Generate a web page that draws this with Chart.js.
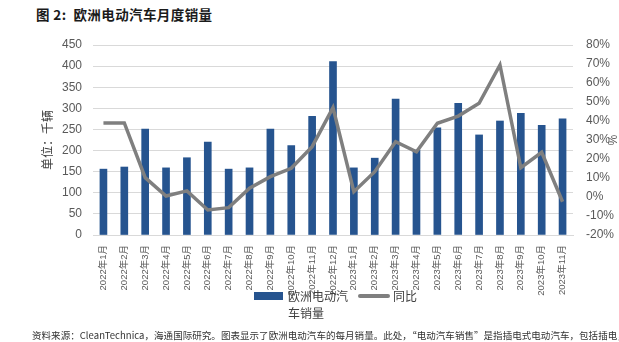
<!DOCTYPE html>
<html lang="zh-CN">
<head>
<meta charset="utf-8">
<title>欧洲电动汽车月度销量</title>
<script src="https://cdn.jsdelivr.net/npm/chart.js@4.4.1/dist/chart.umd.min.js"></script>
<style>
  html, body { margin: 0; padding: 0; background: #fff; }
  body { width: 619px; height: 342px; position: relative; overflow: hidden;
         font-family: "Liberation Sans", "Noto Sans CJK SC", sans-serif; }
  #chart { position: absolute; left: 0; top: 0; }
  .title { position: absolute; left: 36px; top: 4px; font-size: 13.5px; font-weight: bold;
           color: #1a1a1a; letter-spacing: 0.4px; font-family: "Noto Sans CJK SC", sans-serif; }
  .legend { position: absolute; top: 288px; font-size: 12px; color: #404040;
            font-family: "Noto Sans CJK SC", sans-serif; line-height: 16px; }
  .legend .swatch { position: absolute; left: 0; }
  .legend .text { position: absolute; white-space: nowrap; }
  .source { position: absolute; left: 32px; top: 328px; font-size: 9.5px; color: #333;
            letter-spacing: 0.05px; white-space: nowrap; font-family: "Noto Sans CJK SC", sans-serif; }
</style>
</head>
<body>
<div class="title">图 2:&nbsp; 欧洲电动汽车月度销量</div>
<canvas id="chart" width="619" height="342"></canvas>
<div id="legend"></div>
<div class="source">资料来源：CleanTechnica，海通国际研究。图表显示了欧洲电动汽车的每月销量。此处，“电动汽车销售”是指插电式电动汽车，包括插电，</div>
<script>
/* global Chart */

const months = [
  "2022年1月", "2022年2月", "2022年3月", "2022年4月", "2022年5月", "2022年6月",
  "2022年7月", "2022年8月", "2022年9月", "2022年10月", "2022年11月", "2022年12月",
  "2023年1月", "2023年2月", "2023年3月", "2023年4月", "2023年5月", "2023年6月",
  "2023年7月", "2023年8月", "2023年9月", "2023年10月", "2023年11月"
];

// monthly sales, thousand units
const sales = [
  156, 161, 251, 159, 183, 220, 156, 159, 251, 212, 281, 411,
  159, 182, 322, 201, 254, 312, 237, 270, 288, 260, 275
];

// year-over-year change, %
const yoy = [
  39, 39, 10.2, 0.5, 3.2, -6.8, -5.6, 4.6, 10.7, 15.1, 26.5, 47,
  2.8, 13.3, 29.1, 23.8, 38.8, 42.6, 49.3, 69.5, 15.4, 23.5, -2.5
];

const salesLabel = "欧洲电动汽车销量";
const yoyLabel = "同比";

const BLUE = "#26548f";
const GREY = "#7f7f7f";
const TICK = "#595959";

const tickFont = { family: "'Liberation Sans', 'Noto Sans CJK SC', sans-serif", size: 12 };

function renderLegend() {
  const el = document.getElementById("legend");
  el.innerHTML = `
    <div class="legend" style="left:254px">
      <div class="swatch" style="top:4px;width:29px;height:8px;background:${BLUE}"></div>
      <div class="text" style="left:34px;top:0">欧洲电动汽</div>
      <div class="text" style="left:34px;top:17px">车销量</div>
    </div>
    <div class="legend" style="left:358px">
      <div class="swatch" style="top:6px;width:32px;height:4px;background:${GREY};border-radius:2px"></div>
      <div class="text" style="left:35px;top:0">${yoyLabel}</div>
    </div>`;
}

function init() {
  const ctx = document.getElementById("chart").getContext("2d");
  new Chart(ctx, {
    data: {
      labels: months,
      datasets: [
        {
          type: "line",
          label: yoyLabel,
          data: yoy,
          yAxisID: "yRight",
          borderColor: GREY,
          borderWidth: 3.5,
          pointRadius: 0,
          tension: 0,
          order: 0
        },
        {
          type: "bar",
          label: salesLabel,
          data: sales,
          yAxisID: "yLeft",
          backgroundColor: BLUE,
          barThickness: 7,
          order: 1
        }
      ]
    },
    options: {
      responsive: false,
      animation: false,
      layout: { padding: { left: 30, right: 0, top: 45, bottom: 0 } },
      plugins: { legend: { display: false }, tooltip: { enabled: false } },
      scales: {
        x: {
          grid: { display: false },
          border: { color: "#d9d9d9" },
          ticks: {
            color: TICK,
            font: { family: tickFont.family, size: 9.5 },
            minRotation: 90,
            maxRotation: 90,
            autoSkip: false,
            padding: 2
          },
          afterFit: (s) => { s.height = 107; }
        },
        yLeft: {
          position: "left",
          min: 0,
          max: 450,
          grid: { color: "#d9d9d9", drawTicks: false },
          border: { display: false },
          ticks: { stepSize: 50, color: TICK, font: tickFont, padding: 11 },
          title: {
            display: true,
            text: "单位：千辆",
            color: "#404040",
            font: { family: "'Noto Sans CJK SC', sans-serif", size: 12 },
            padding: { top: 10, bottom: 0 }
          },
          afterFit: (s) => { s.width = 63; }
        },
        yRight: {
          position: "right",
          min: -20,
          max: 80,
          grid: { display: false, drawTicks: false },
          border: { display: false },
          ticks: {
            stepSize: 10,
            color: TICK,
            font: tickFont,
            padding: 13,
            callback: (v) => `${v}%`
          },
          title: {
            display: true,
            text: "%",
            color: TICK,
            font: tickFont,
            padding: { top: 0, bottom: 1 }
          },
          afterFit: (s) => { s.width = 46; }
        }
      }
    }
  });
  renderLegend();
}

document.addEventListener("DOMContentLoaded", init);
</script>
</body>
</html>
